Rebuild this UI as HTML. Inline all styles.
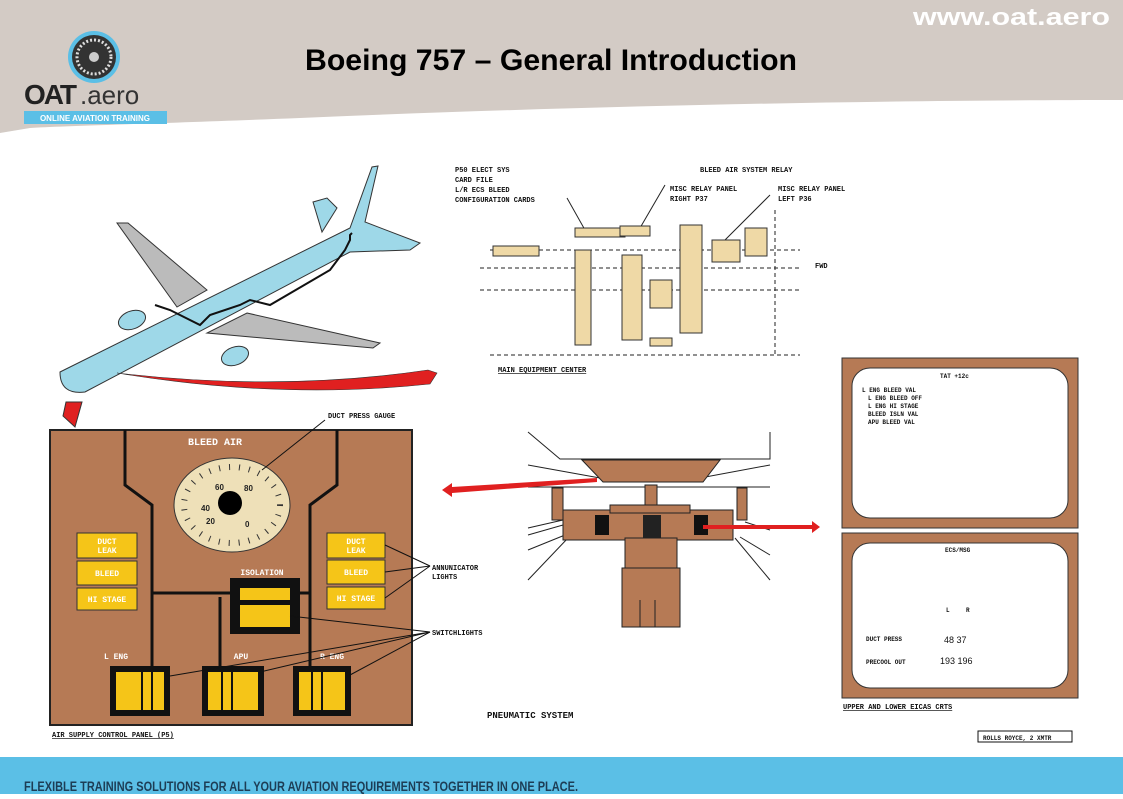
<!DOCTYPE html>
<html><head><meta charset="utf-8"><style>
body{margin:0;width:1123px;height:794px;overflow:hidden;background:#fff;font-family:"Liberation Sans",sans-serif}
</style></head><body>
<svg width="1123" height="794" viewBox="0 0 1123 794" xmlns="http://www.w3.org/2000/svg" font-family="Liberation Sans, sans-serif">
<!-- header -->
<path d="M0 0H1123V100C900 100 600 105 300 118C150 124 60 126 30 128L0 133Z" fill="#d3cbc5"/>
<text x="913" y="25" textLength="197" lengthAdjust="spacingAndGlyphs" font-size="24" font-weight="bold" fill="#fff">www.oat.aero</text>
<text x="305" y="70" textLength="492" lengthAdjust="spacingAndGlyphs" font-size="30" font-weight="bold" fill="#000">Boeing 757 – General Introduction</text>
<circle cx="94" cy="57" r="26" fill="#5bbfe6"/><circle cx="94" cy="57" r="22" fill="#333"/><circle cx="94" cy="57" r="17" fill="none" stroke="#ddd" stroke-width="3" stroke-dasharray="2 2"/><circle cx="94" cy="57" r="5" fill="#ccc"/>
<text x="24" y="104" font-size="28" font-weight="bold" letter-spacing="-2" fill="#222">OAT</text><text x="80" y="104" font-size="26" fill="#333">.aero</text>
<rect x="24" y="111" width="143" height="13" fill="#5bbfe6"/><text x="95" y="121" text-anchor="middle" font-size="8" font-weight="bold" fill="#fff">ONLINE AVIATION TRAINING</text>
<!-- footer -->
<rect x="0" y="757" width="1123" height="37" fill="#5bbfe6"/>
<text x="24" y="791" textLength="554" lengthAdjust="spacingAndGlyphs" font-size="14" font-weight="bold" fill="#1d3d55">FLEXIBLE TRAINING SOLUTIONS FOR ALL YOUR AVIATION REQUIREMENTS TOGETHER IN ONE PLACE.</text>
<!-- airplane -->
<polygon points="117,223 128,223 207,290 177,307" fill="#bbb" stroke="#333"/>
<polygon points="247,313 380,343 373,348 207,333" fill="#bbb" stroke="#333"/>
<polygon points="313,202 327,198 337,208 322,232" fill="#9ed8e8" stroke="#333"/>
<path d="M60 372L350 228L372 167L378 166L365 222L420 243L410 250L350 252L85 392Q60 395 60 372Z" fill="#9ed8e8" stroke="#333"/>
<ellipse cx="132" cy="320" rx="14" ry="9" fill="#9ed8e8" stroke="#333" transform="rotate(-20 132 320)"/>
<ellipse cx="235" cy="356" rx="14" ry="9" fill="#9ed8e8" stroke="#333" transform="rotate(-20 235 356)"/>
<polyline points="155,305 170,310 200,325 210,315 240,305 250,300 270,305 330,270 345,250 350,240 350,235 352,233" fill="none" stroke="#111" stroke-width="2"/>
<path d="M117 373Q280 392 428 370L437 373 430 384Q280 400 117 373Z" fill="#e02020" stroke="#333" stroke-width="0.6"/>
<polygon points="66,402 82,402 75,427 63,416" fill="#e02020" stroke="#333"/>
<!-- equipment center -->
<g font-size="7" font-weight="bold" font-family="Liberation Mono, monospace" fill="#111">
<text x="455" y="172">P50 ELECT SYS</text><text x="455" y="182">CARD FILE</text><text x="455" y="192">L/R ECS BLEED</text><text x="455" y="202">CONFIGURATION CARDS</text>
<text x="700" y="172">BLEED AIR SYSTEM RELAY</text>
<text x="670" y="191">MISC RELAY PANEL</text><text x="670" y="201">RIGHT P37</text>
<text x="778" y="191">MISC RELAY PANEL</text><text x="778" y="201">LEFT P36</text>
<text x="815" y="268">FWD</text><text x="498" y="372" text-decoration="underline">MAIN EQUIPMENT CENTER</text>
</g>
<g stroke="#222" fill="none"><line x1="480" y1="268" x2="800" y2="268" stroke-dasharray="4 3"/><line x1="480" y1="290" x2="800" y2="290" stroke-dasharray="4 3"/><line x1="490" y1="250" x2="800" y2="250" stroke-dasharray="4 3"/><line x1="490" y1="355" x2="800" y2="355" stroke-dasharray="4 3"/><line x1="775" y1="210" x2="775" y2="355" stroke-dasharray="4 3"/><line x1="567" y1="198" x2="585" y2="230"/><line x1="665" y1="185" x2="640" y2="228"/><line x1="770" y1="195" x2="725" y2="240"/></g>
<g fill="#efd9a6" stroke="#333"><rect x="493" y="246" width="46" height="10"/><rect x="575" y="250" width="16" height="95"/><rect x="575" y="228" width="50" height="9"/><rect x="620" y="226" width="30" height="10"/><rect x="622" y="255" width="20" height="85"/><rect x="650" y="280" width="22" height="28"/><rect x="680" y="225" width="22" height="108"/><rect x="712" y="240" width="28" height="22"/><rect x="745" y="228" width="22" height="28"/><rect x="650" y="338" width="22" height="8"/></g>
<!-- panel -->
<rect x="50" y="430" width="362" height="295" fill="#b67a55" stroke="#222" stroke-width="2"/>
<g stroke="#111" stroke-width="3" fill="none"><polyline points="125,430 125,485 152,505 152,670"/><polyline points="337,430 337,485 310,505 310,670"/><line x1="152" y1="593" x2="310" y2="593"/><line x1="220" y1="597" x2="220" y2="670"/></g>
<text x="215" y="445" text-anchor="middle" font-size="10" font-weight="bold" fill="#fff" font-family="Liberation Mono, monospace">BLEED AIR</text>
<ellipse cx="232" cy="505" rx="58" ry="47" fill="#eee0b8" stroke="#333"/>
<ellipse cx="232" cy="505" rx="48" ry="38" fill="none" stroke="#333" stroke-width="6" stroke-dasharray="1 9"/>
<circle cx="230" cy="503" r="12" fill="#000"/>
<g font-size="8" font-weight="bold" fill="#222"><text x="215" y="490">60</text><text x="244" y="491">80</text><text x="201" y="511">40</text><text x="206" y="524">20</text><text x="245" y="527">0</text></g>
<g fill="#f5c518" stroke="#333"><rect x="77" y="533" width="60" height="25"/><rect x="77" y="561" width="60" height="24"/><rect x="77" y="588" width="60" height="22"/><rect x="327" y="533" width="58" height="25"/><rect x="327" y="560" width="58" height="24"/><rect x="327" y="587" width="58" height="22"/></g>
<g font-size="8" font-weight="bold" fill="#fff" text-anchor="middle" font-family="Liberation Mono, monospace"><text x="107" y="544">DUCT</text><text x="107" y="553">LEAK</text><text x="107" y="576">BLEED</text><text x="107" y="602">HI STAGE</text><text x="356" y="544">DUCT</text><text x="356" y="553">LEAK</text><text x="356" y="575">BLEED</text><text x="356" y="601">HI STAGE</text><text x="262" y="575">ISOLATION</text><text x="262" y="621">VALVE</text><text x="116" y="659">L ENG</text><text x="241" y="659">APU</text><text x="332" y="659">R ENG</text></g>
<rect x="230" y="578" width="70" height="56" fill="#111"/><rect x="240" y="588" width="50" height="12" fill="#f5c518"/><rect x="240" y="605" width="50" height="22" fill="#f5c518"/>
<g fill="#111"><rect x="110" y="666" width="60" height="50"/><rect x="202" y="666" width="62" height="50"/><rect x="293" y="666" width="58" height="50"/></g>
<g fill="#f5c518"><rect x="116" y="672" width="48" height="38"/><rect x="208" y="672" width="50" height="38"/><rect x="299" y="672" width="46" height="38"/></g>
<g stroke="#111" stroke-width="2"><line x1="142" y1="672" x2="142" y2="710"/><line x1="152" y1="672" x2="152" y2="710"/><line x1="222" y1="672" x2="222" y2="710"/><line x1="232" y1="672" x2="232" y2="710"/><line x1="312" y1="672" x2="312" y2="710"/><line x1="322" y1="672" x2="322" y2="710"/></g>
<g font-size="7" font-weight="bold" fill="#111" font-family="Liberation Mono, monospace"><text x="328" y="418">DUCT PRESS GAUGE</text><text x="432" y="570">ANNUNICATOR</text><text x="432" y="579">LIGHTS</text><text x="432" y="635">SWITCHLIGHTS</text><text x="52" y="737" text-decoration="underline">AIR SUPPLY CONTROL PANEL (P5)</text><text x="487" y="718" font-size="9">PNEUMATIC SYSTEM</text><text x="843" y="709" text-decoration="underline">UPPER AND LOWER EICAS CRTS</text></g>
<g stroke="#111" fill="none"><line x1="262" y1="470" x2="325" y2="420"/><line x1="385" y1="545" x2="430" y2="566"/><line x1="385" y1="572" x2="430" y2="566"/><line x1="385" y1="598" x2="430" y2="566"/><line x1="290" y1="616" x2="430" y2="632"/><line x1="170" y1="676" x2="430" y2="632"/><line x1="260" y1="672" x2="430" y2="632"/><line x1="350" y1="675" x2="430" y2="632"/></g>
<!-- cockpit -->
<g stroke="#222" fill="none"><polyline points="528,432 560,459 770,459 770,432"/><line x1="528" y1="465" x2="600" y2="478"/><line x1="700" y1="478" x2="770" y2="465"/><line x1="528" y1="487" x2="770" y2="487"/><line x1="528" y1="528" x2="563" y2="520"/><line x1="528" y1="535" x2="563" y2="525"/><line x1="528" y1="550" x2="565" y2="535"/><line x1="528" y1="580" x2="568" y2="538"/><line x1="770" y1="530" x2="745" y2="522"/><line x1="770" y1="555" x2="740" y2="537"/><line x1="770" y1="580" x2="735" y2="538"/></g>
<polygon points="582,460 720,460 703,482 603,482" fill="#b67a55" stroke="#222"/>
<rect x="645" y="485" width="12" height="22" fill="#b67a55" stroke="#222"/>
<rect x="552" y="488" width="11" height="32" fill="#b67a55" stroke="#222"/><rect x="737" y="488" width="10" height="32" fill="#b67a55" stroke="#222"/>
<rect x="563" y="510" width="170" height="30" fill="#b67a55" stroke="#222"/>
<rect x="610" y="505" width="80" height="8" fill="#b67a55" stroke="#222"/>
<rect x="595" y="515" width="14" height="20" fill="#111"/><rect x="643" y="515" width="18" height="25" fill="#222"/><rect x="694" y="515" width="14" height="20" fill="#111"/>
<rect x="625" y="538" width="52" height="32" fill="#b67a55" stroke="#222"/>
<rect x="622" y="568" width="58" height="59" fill="#b67a55" stroke="#222"/>
<line x1="640" y1="600" x2="640" y2="627" stroke="#222"/><line x1="655" y1="600" x2="655" y2="627" stroke="#222"/>
<path d="M597 478L452 487 452 483 442 490 452 497 452 493 597 482Z" fill="#e02020"/>
<path d="M703 525L812 525 812 521 820 527 812 533 812 529 703 529Z" fill="#e02020"/>
<!-- monitors -->
<rect x="842" y="358" width="236" height="170" fill="#b67a55" stroke="#333"/><rect x="852" y="368" width="216" height="150" rx="18" fill="#fff" stroke="#333"/>
<rect x="842" y="533" width="236" height="165" fill="#b67a55" stroke="#333"/><rect x="852" y="543" width="216" height="145" rx="18" fill="#fff" stroke="#333"/>
<g font-size="6" font-weight="bold" font-family="Liberation Mono, monospace" fill="#111"><text x="940" y="378">TAT +12c</text><text x="862" y="392">L ENG BLEED VAL</text><text x="868" y="400">L ENG BLEED OFF</text><text x="868" y="408">L ENG HI STAGE</text><text x="868" y="416">BLEED ISLN VAL</text><text x="868" y="424">APU BLEED VAL</text><text x="945" y="552">ECS/MSG</text><text x="866" y="641">DUCT PRESS</text><text x="866" y="664">PRECOOL OUT</text><text x="983" y="740">ROLLS ROYCE, 2 XMTR</text><text x="946" y="612">L</text><text x="966" y="612">R</text></g>
<g font-size="9" fill="#111"><text x="944" y="643">48  37</text><text x="940" y="664">193 196</text></g>
<rect x="978" y="731" width="94" height="11" fill="none" stroke="#111"/>
</svg>
</body></html>
